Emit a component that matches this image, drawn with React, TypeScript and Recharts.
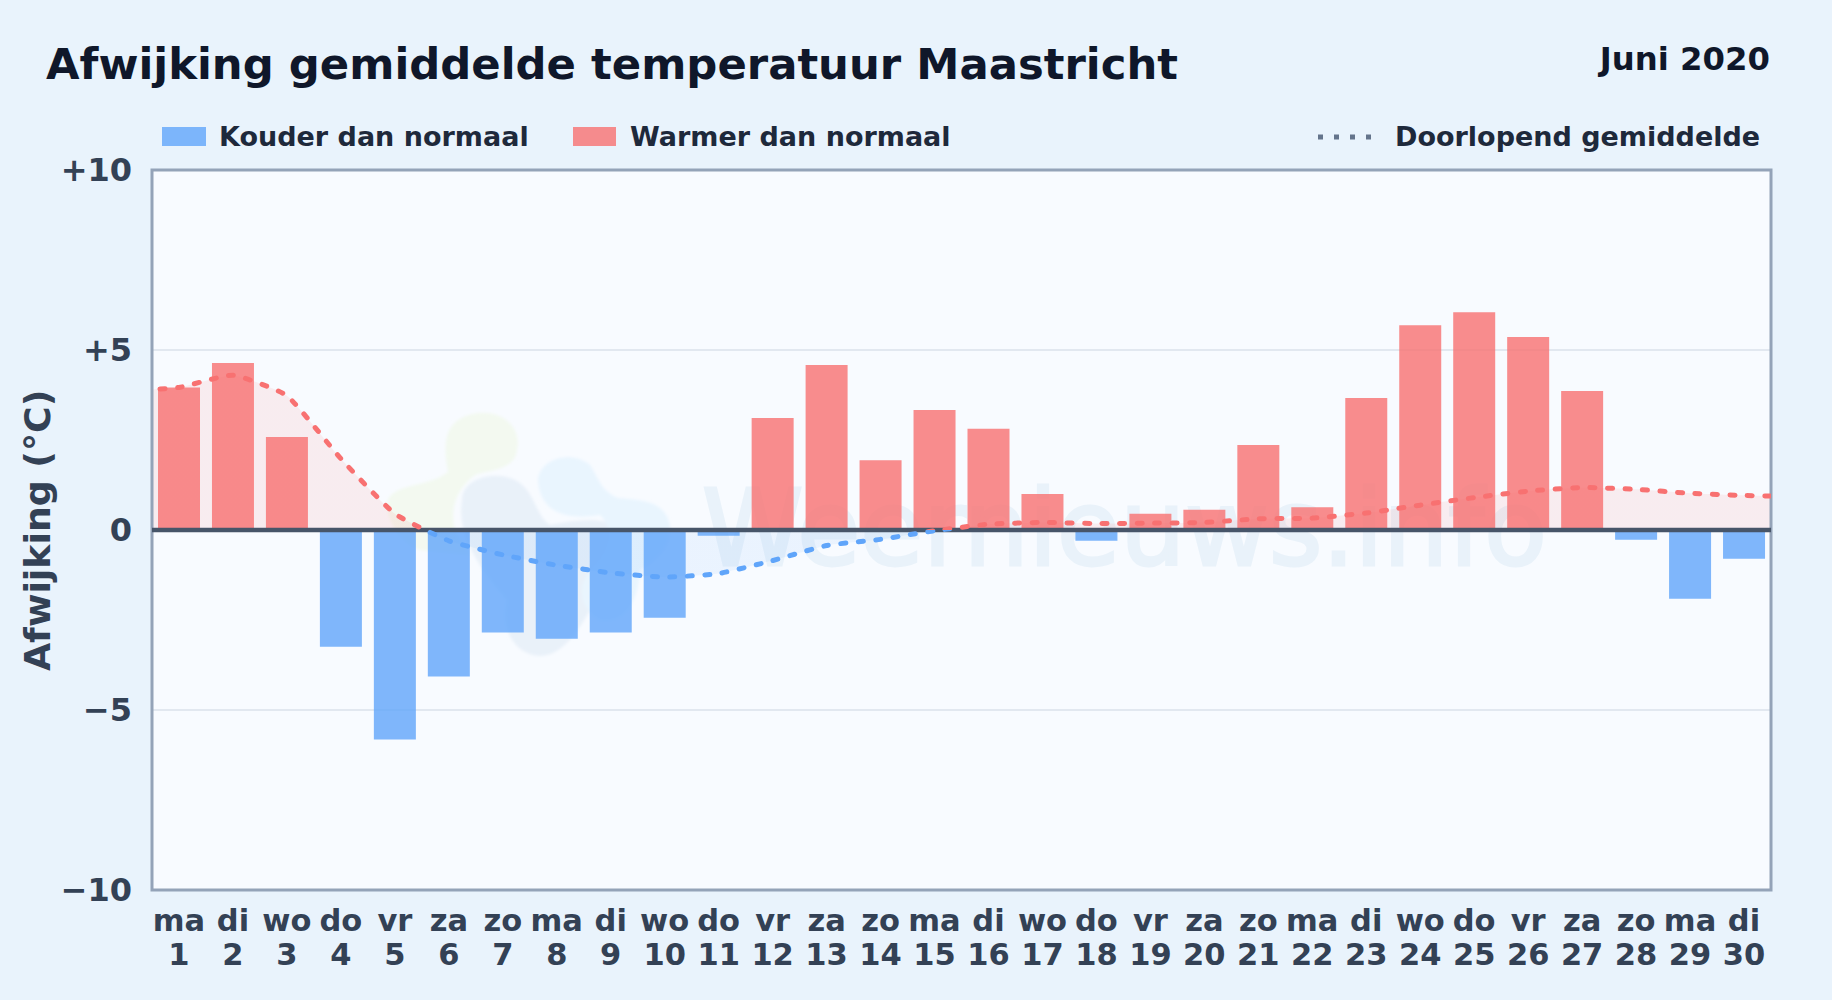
import React from "react";
import { ComposedChart, Bar, Line, Area, Cell, XAxis, YAxis, CartesianGrid, ReferenceLine, ReferenceArea } from "recharts";

const dayNames = ["ma","di","wo","do","vr","za","zo","ma","di","wo","do","vr","za","zo","ma","di","wo","do","vr","za","zo","ma","di","wo","do","vr","za","zo","ma","di"];
const dayNumbers = [1,2,3,4,5,6,7,8,9,10,11,12,13,14,15,16,17,18,19,20,21,22,23,24,25,26,27,28,29,30];
const deviations = [3.96,4.64,2.58,-3.24,-5.82,-4.07,-2.85,-3.02,-2.85,-2.44,-0.16,3.11,4.58,1.94,3.33,2.81,1.0,-0.3,0.45,0.56,2.36,0.63,3.67,5.69,6.05,5.36,3.86,-0.27,-1.91,-0.8];
const runningMean = [3.96,4.3,3.73,1.98,0.45,-0.3,-0.69,-0.98,-1.19,-1.31,-1.21,-0.85,-0.43,-0.26,-0.02,0.16,0.21,0.18,0.19,0.21,0.31,0.33,0.47,0.69,0.9,1.08,1.18,1.13,1.02,0.96];
const edgeMeans = [3.86, 0.93];
const yTicks = [-10,-5,0,5,10];

const rows: any[] = [
  { x: 0, mean: edgeMeans[0] },
  ...dayNumbers.map((d, i) => ({ x: d, value: deviations[i], mean: runningMean[i] })),
  { x: 31, mean: edgeMeans[1] },
];

const W = 1832, H = 1000;
const FONT = "'DejaVu Sans', sans-serif";
const RED = "#f87171", BLUE = "#60a5fa";

const fmtY = (v: number) => (v > 0 ? `+${v}` : v < 0 ? `\u2212${Math.abs(v)}` : "0");

// Low-tension spline, the curve the reference appears to use (small kinks at the points).
function softCurve(context: any) {
  const t = 0.15;
  let pts: number[][] = [];
  let inArea = false;
  let firstLine = true;
  return {
    areaStart() { inArea = true; firstLine = true; },
    areaEnd() { inArea = false; context.closePath(); },
    lineStart() { pts = []; },
    point(x: number, y: number) { pts.push([+x, +y]); },
    lineEnd() {
      if (!pts.length) return;
      if (inArea && !firstLine) context.lineTo(pts[0][0], pts[0][1]);
      else context.moveTo(pts[0][0], pts[0][1]);
      firstLine = false;
      const ctrl = (i: number) => {
        const p = pts[Math.max(i - 1, 0)], c = pts[i], n = pts[Math.min(i + 1, pts.length - 1)];
        const d01 = Math.hypot(c[0] - p[0], c[1] - p[1]);
        const d12 = Math.hypot(n[0] - c[0], n[1] - c[1]);
        const sum = d01 + d12 || 1;
        const fa = (t * d01) / sum, fb = (t * d12) / sum;
        return {
          px: c[0] - fa * (n[0] - p[0]), py: c[1] - fa * (n[1] - p[1]),
          nx: c[0] + fb * (n[0] - p[0]), ny: c[1] + fb * (n[1] - p[1]),
        };
      };
      for (let i = 1; i < pts.length; i++) {
        const a = ctrl(i - 1), b = ctrl(i);
        context.bezierCurveTo(a.nx, a.ny, b.px, b.py, pts[i][0], pts[i][1]);
      }
    },
  };
}

function DayTick(props: any) {
  const { x, payload } = props;
  const i = dayNumbers.indexOf(payload.value);
  return (
    <text x={x} textAnchor="middle" fontFamily={FONT} fontWeight={700} fontSize={30.5} fill="#334155">
      <tspan x={x} y={931}>{dayNames[i]}</tspan>
      <tspan x={x} y={965}>{dayNumbers[i]}</tspan>
    </text>
  );
}

function Backdrop() {
  return (
    <svg width={W} height={H} style={{ position: "absolute", left: 0, top: 0 }}>
      <defs>
        <filter id="soft" x="-20%" y="-20%" width="140%" height="140%"><feGaussianBlur stdDeviation="1.5" /></filter>
        <clipPath id="plotClip"><rect x={152} y={170} width={1620} height={720} /></clipPath>
      </defs>
      <rect x={0} y={0} width={W} height={H} fill="#e9f3fc" />
      <rect x={152} y={170} width={1619} height={720} fill="#f8fbff" />
      <g clipPath="url(#plotClip)" filter="url(#soft)">
        <path d="M388 500 C395 483 430 487 448 472 C442 440 445 418 478 413 C505 410 522 430 517 450 C515 470 490 470 475 475 C455 490 450 510 455 530 L470 555 L420 550 C395 540 385 515 388 500 Z" fill="#f3f9f0" />
        <path d="M462 500 C462 478 495 470 515 480 C535 490 535 515 550 525 C575 520 605 515 622 530 C632 545 620 575 600 590 C590 610 570 655 541 656 C515 655 500 630 507 600 C490 580 455 540 462 500 Z" fill="#e9f1f9" />
        <path d="M538 480 C540 458 572 450 590 465 C600 480 600 490 618 498 C640 500 665 500 670 525 C672 545 660 560 640 570 C640 590 630 625 600 620 C582 610 575 590 590 570 C610 550 615 530 600 515 C570 520 540 515 538 480 Z" fill="#e9f5fe" />
      </g>
      <text x={702} y={565} fontFamily={FONT} fontWeight={400} fontSize={105} fill="#e9f2fa" stroke="#e9f2fa" strokeWidth={3} textLength={845} lengthAdjust="spacingAndGlyphs">Weernieuws.info</text>

      <text x={46} y={79} fontFamily={FONT} fontWeight={700} fontSize={43.35} fill="#0f172a">Afwijking gemiddelde temperatuur Maastricht</text>
      <text x={1770} y={70} textAnchor="end" fontFamily={FONT} fontWeight={700} fontSize={32.3} fill="#0f172a">Juni 2020</text>

      <rect x={162} y={127} width={44} height={19} fill={BLUE} fillOpacity={0.8} />
      <text x={219} y={146} fontFamily={FONT} fontWeight={700} fontSize={27} fill="#1e293b">Kouder dan normaal</text>
      <rect x={573} y={127} width={43} height={19} fill={RED} fillOpacity={0.8} />
      <text x={630} y={146} fontFamily={FONT} fontWeight={700} fontSize={27} fill="#1e293b">Warmer dan normaal</text>
      <line x1={1318} x2={1374} y1={137} y2={137} stroke="#64748b" strokeWidth={5} strokeDasharray="5 11" />
      <text x={1395} y={146} fontFamily={FONT} fontWeight={700} fontSize={27} fill="#1e293b">Doorlopend gemiddelde</text>
    </svg>
  );
}

export default function App() {
  return (
    <div style={{ position: "absolute", left: 0, top: 0, width: W, height: H, overflow: "hidden" }}>
      <Backdrop />
      <div style={{ position: "absolute", left: 0, top: 0 }}>
        <ComposedChart width={W} height={H} data={rows} margin={{ top: 170, right: 61, bottom: 0, left: 0 }} style={{ background: "transparent" }}>
          <defs>
            <linearGradient id="meanStroke" gradientUnits="userSpaceOnUse" x1="0" y1="170" x2="0" y2="890">
              <stop offset="50%" stopColor={RED} />
              <stop offset="50%" stopColor={BLUE} />
            </linearGradient>
            <linearGradient id="meanFill" gradientUnits="userSpaceOnUse" x1="0" y1="170" x2="0" y2="890">
              <stop offset="50%" stopColor={RED} stopOpacity={0.18} />
              <stop offset="50%" stopColor={BLUE} stopOpacity={0.15} />
            </linearGradient>
          </defs>
          <CartesianGrid vertical={false} horizontalValues={[-5, 5]} stroke="#e2e8f0" strokeWidth={2} />
          <XAxis dataKey="x" type="number" domain={[0.5, 30.5]} ticks={dayNumbers} interval={0} height={110} axisLine={false} tickLine={false} tick={<DayTick />} allowDataOverflow />
          <YAxis type="number" domain={[-10, 10]} ticks={yTicks} width={152} axisLine={false} tickLine={false} tickFormatter={fmtY} tickMargin={14}
            tick={{ fontFamily: FONT, fontWeight: 700, fontSize: 32, fill: "#334155" }}
            label={{ value: "Afwijking (\u00b0C)", angle: -90, position: "insideLeft", offset: 0, dx: 37, dy: 141, style: { fontFamily: FONT, fontWeight: 700, fontSize: 36.3, fill: "#334155" } }} />
          <Area dataKey="mean" type={softCurve as any} baseValue={0} stroke="none" fill="url(#meanFill)" isAnimationActive={false} dot={false} activeDot={false} />
          <Bar dataKey="value" barSize={42} isAnimationActive={false} fillOpacity={0.8}>
            {rows.map((r, i) => <Cell key={i} fill={(r.value ?? 0) >= 0 ? RED : BLUE} />)}
          </Bar>
          <ReferenceLine y={0} stroke="#475569" strokeWidth={4.5} />
          <Line dataKey="mean" type={softCurve as any} stroke="url(#meanStroke)" strokeWidth={5} strokeDasharray="5 12.5" strokeLinecap="round" dot={false} activeDot={false} isAnimationActive={false} />
          <ReferenceArea x1={0.5} x2={30.5} y1={-10} y2={10} fill="none" fillOpacity={0} stroke="#94a3b8" strokeWidth={3} />
        </ComposedChart>
      </div>
    </div>
  );
}
